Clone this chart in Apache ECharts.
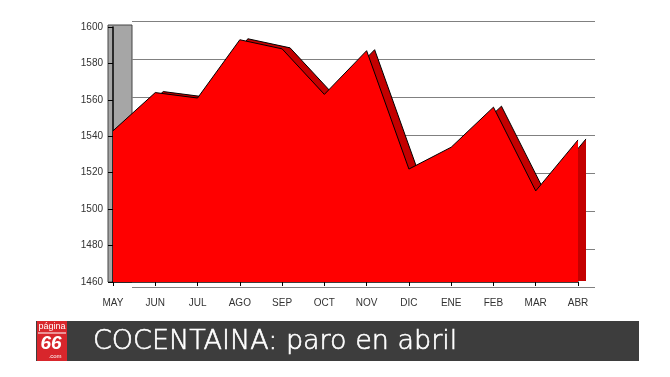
<!DOCTYPE html>
<html>
<head>
<meta charset="utf-8">
<script src="https://cdn.jsdelivr.net/npm/echarts@6/dist/echarts.min.js"></script>
<style>
  html, body { margin: 0; padding: 0; background: #fff; }
  #main { width: 670px; height: 377px; }
</style>
</head>
<body>
<div id="main"></div>
<script>
// meses
var months = ['MAY', 'JUN', 'JUL', 'AGO', 'SEP', 'OCT', 'NOV', 'DIC', 'ENE', 'FEB', 'MAR', 'ABR'];
// parados por mes
var paro = [1543, 1564, 1561, 1593, 1588, 1563, 1587, 1522, 1534, 1556, 1510, 1538];
// eje vertical
var yMin = 1460;
var yMax = 1600;
var yStep = 20;

var chart = echarts.init(document.getElementById('main'));

var labelFont = {color: '#333', fontFamily: 'Liberation Sans', fontSize: 10};

var option = {
    animation: false,
    backgroundColor: '#fff',
    grid: [
        {left: 113, right: 92, top: 27, bottom: 95},   // cara frontal
        {left: 121, right: 84, top: 26, bottom: 96},   // profundidad
        {left: 132, right: 75, top: 21, bottom: 90}    // pared del fondo
    ],
    xAxis: [
        {
            gridIndex: 0, type: 'category', data: months, boundaryGap: false,
            axisLine: {lineStyle: {color: '#000', width: 1.5}},
            axisTick: {show: true, length: 4, lineStyle: {color: '#000'}},
            axisLabel: Object.assign({margin: 16, interval: 0}, labelFont)
        },
        {gridIndex: 1, type: 'category', data: months, boundaryGap: false, show: false},
        {gridIndex: 2, type: 'category', data: months, boundaryGap: false, show: false}
    ],
    yAxis: [
        {
            gridIndex: 0, type: 'value', min: yMin, max: yMax, interval: yStep,
            axisLine: {show: true, lineStyle: {color: '#000', width: 1.5}},
            axisTick: {show: true, length: 5, lineStyle: {color: '#000'}},
            axisLabel: Object.assign({
                margin: 10,
                formatter: function (v) { return String(v); }
            }, labelFont),
            splitLine: {show: false}
        },
        {gridIndex: 1, type: 'value', min: yMin, max: yMax, interval: yStep, show: false, splitLine: {show: false}},
        {
            gridIndex: 2, type: 'value', min: yMin, max: yMax, interval: yStep,
            axisLine: {show: false}, axisTick: {show: false}, axisLabel: {show: false},
            splitLine: {show: true, lineStyle: {color: '#808080', width: 1}}
        }
    ],
    graphic: [
        // pared lateral gris
        {type: 'rect', z: 0, shape: {x: 108, y: 25, width: 24, height: 257},
            style: {fill: '#a6a6a6', stroke: '#444', lineWidth: 1}},
        // banda del titulo
        {type: 'rect', z: 10, shape: {x: 36, y: 321, width: 603, height: 40},
            style: {fill: '#3d3d3d'}},
        {type: 'rect', z: 11, shape: {x: 37, y: 321, width: 30, height: 40},
            style: {fill: '#d8262c'}},
        {type: 'line', z: 12, shape: {x1: 38, y1: 333, x2: 66, y2: 333},
            style: {stroke: '#fff', lineWidth: 1}},
        {type: 'text', z: 12, style: {x: 52, y: 327, text: 'página', fill: '#fff',
            font: '9px "Liberation Sans"', textAlign: 'center', textVerticalAlign: 'middle'}},
        {type: 'text', z: 12, style: {x: 51, y: 344, text: '66', fill: '#fff',
            font: 'italic bold 19px "Liberation Sans"', textAlign: 'center', textVerticalAlign: 'middle'}},
        {type: 'text', z: 12, style: {x: 55, y: 356, text: '.com', fill: '#fff',
            font: '6px "Liberation Sans"', textAlign: 'center', textVerticalAlign: 'middle'}},
        {type: 'text', z: 12, style: {x: 93, y: 342, text: 'COCENTAINA: paro en abril', fill: '#fff',
            font: '200 27px "DejaVu Sans"', textVerticalAlign: 'middle',
            stroke: '#fff', lineWidth: 0.6}}
    ],
    series: [
        {
            type: 'line', xAxisIndex: 1, yAxisIndex: 1, data: paro, z: 2,
            symbol: 'none', lineStyle: {color: '#000', width: 1},
            areaStyle: {color: '#c40000', opacity: 1}
        },
        {
            type: 'line', xAxisIndex: 0, yAxisIndex: 0, data: paro, z: 3,
            symbol: 'none', lineStyle: {color: '#000', width: 1},
            areaStyle: {color: '#ff0000', opacity: 1}
        }
    ]
};

chart.setOption(option);
</script>
</body>
</html>
